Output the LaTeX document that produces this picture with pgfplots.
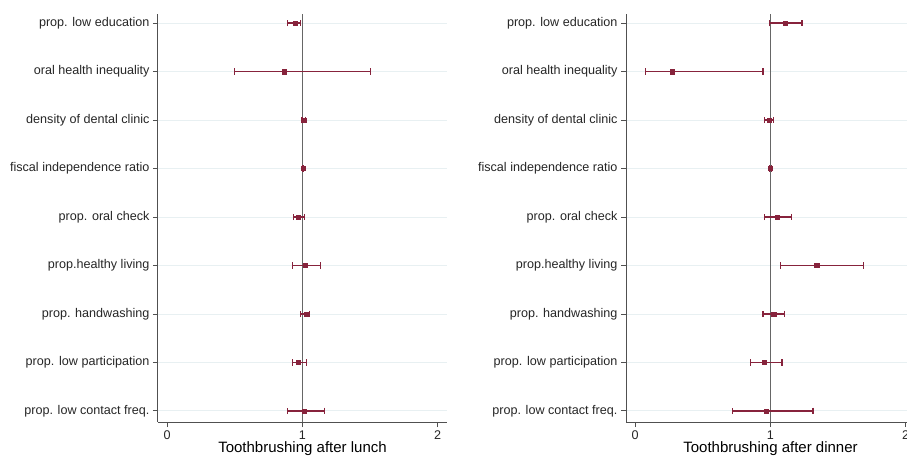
\documentclass[border=0pt]{standalone}
\usepackage{pgfplots}
\pgfplotsset{compat=1.18}
\usepackage{pgfplotstable}
\usepackage{fontspec}
\setmainfont{Liberation Sans}
\definecolor{cran}{RGB}{135,35,60}
\definecolor{gridc}{RGB}{232,240,242}
\definecolor{axc}{RGB}{80,80,80}
\pgfplotstableread{
y x lo hi
9 0.946 0.890 0.985
8 0.864 0.499 1.504
7 1.010 0.998 1.022
6 1.005 1.001 1.009
5 0.968 0.936 1.017
4 1.022 0.926 1.133
3 1.030 0.985 1.054
2 0.973 0.926 1.030
1 1.015 0.891 1.163
}\lunch
\pgfplotstableread{
y x lo hi
9 1.111 0.995 1.235
8 0.272 0.079 0.946
7 0.990 0.958 1.025
6 1.002 0.995 1.010
5 1.052 0.958 1.156
4 1.343 1.074 1.689
3 1.025 0.946 1.106
2 0.958 0.854 1.086
1 0.970 0.719 1.316
}\dinner
\pgfplotsset{
  myax/.style={
    scale only axis, width=289pt, height=408pt, anchor=south west,
    xmin=-0.067, xmax=2.07, ymin=0.77, ymax=9.19,
    axis x line*=bottom, axis y line*=left,
    axis line style={axc, line width=1pt},
    xtick={0,1,2}, ytick={1,...,9},
    yticklabels={prop. low contact freq., prop. low participation, prop. handwashing, prop.healthy living, prop. oral check, fiscal independence ratio, density of dental clinic, oral health inequality, prop. low education},
    tick align=outside, major tick length=5pt,
    tick style={axc, line width=0.8pt},
    ymajorgrids, grid style={gridc, line width=0.8pt},
    ticklabel style={font=\fontsize{12.6}{14}\selectfont, text=black!85},
    /pgf/number format/assume math mode=true,
    xlabel style={font=\fontsize{15}{17}\selectfont, yshift=5pt},
    clip=false,
  },
  ci/.style={
    draw=cran, fill=cran, line width=1.6pt, mark=square*, mark size=2.1pt,
    mark options={fill=cran, draw=cran, solid, line width=0.5pt},
    only marks,
    error bars/.cd, x dir=both, x explicit,
    error bar style={solid, draw=cran, line width=1.6pt},
    error mark=|,
    error mark options={draw=cran, mark size=3.2pt, line width=1.3pt},
  },
}
\begin{document}
\begin{tikzpicture}
\path[use as bounding box] (0pt,0pt) rectangle (907pt,455pt);
\begin{axis}[myax, at={(158pt,33pt)}, xlabel={Toothbrushing after lunch}]
\addplot[gray!80!black, line width=1pt] coordinates {(1,0.77) (1,9.19)};
\addplot[ci] table[x=x, y=y, x error plus expr=\thisrow{hi}-\thisrow{x}, x error minus expr=\thisrow{x}-\thisrow{lo}] {\lunch};
\end{axis}
\begin{axis}[myax, at={(626pt,33pt)}, xlabel={Toothbrushing after dinner}]
\addplot[gray!80!black, line width=1pt] coordinates {(1,0.77) (1,9.19)};
\addplot[ci] table[x=x, y=y, x error plus expr=\thisrow{hi}-\thisrow{x}, x error minus expr=\thisrow{x}-\thisrow{lo}] {\dinner};
\end{axis}
\end{tikzpicture}
\end{document}
